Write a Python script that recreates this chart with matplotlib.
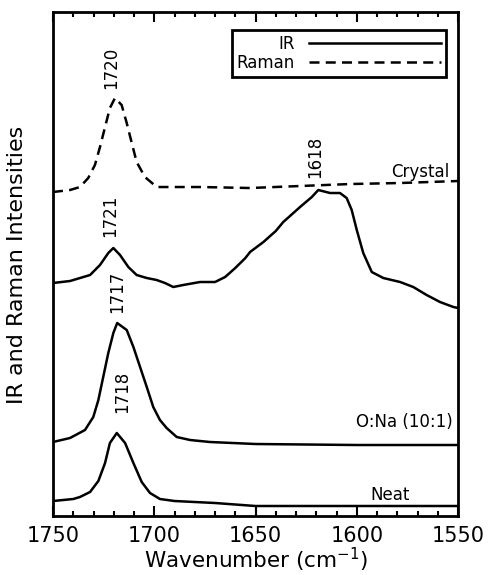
import matplotlib
matplotlib.use("Agg")
import matplotlib.pyplot as plt
from matplotlib.ticker import MultipleLocator

### DATA ### (intensities in arbitrary offset units)

neat_wn = [1750, 1740, 1736.7, 1731.7, 1727.6, 1724.3, 1721.9, 1718.5, 1714.4, 1710.3,
           1706.2, 1702.1, 1697.2, 1690, 1680, 1670, 1650, 1600, 1550]
neat_int = [15, 17, 19, 24, 35, 53, 73, 83, 73, 53,
            34, 23, 17, 15, 14, 13, 10, 10, 10]

ona_wn = [1750, 1741.6, 1734.2, 1730.1, 1727.6, 1725.2, 1722.7, 1720.2, 1718.3, 1713.6,
          1710.3, 1707.0, 1703.7, 1700.5, 1697.2, 1693.9, 1688.9, 1682.3, 1672.5, 1650,
          1600, 1550]
ona_int = [74, 78, 86, 99, 116, 139, 163, 183, 193, 186,
           169, 149, 129, 109, 96, 88, 79, 76, 74, 72,
           71, 71]

ir_wn = [1750, 1741.6, 1731.7, 1726.8, 1722.7, 1720.2, 1716.9, 1712.8, 1708.7, 1703.7,
         1698.8, 1694.7, 1690.6, 1685.7, 1677.4, 1670, 1665, 1660, 1655, 1652.7,
         1646.1, 1640, 1636.3, 1628.0, 1622.2, 1619.0, 1613.2, 1608.3, 1605.0, 1602.5,
         1600.0, 1596.8, 1592.6, 1586.9, 1578.6, 1572.1, 1565.5, 1558.9, 1552.3, 1550]
ir_int = [233, 235, 241, 251, 263, 268, 261, 249, 241, 238,
          236, 233, 229, 231, 234, 234, 239, 248, 258, 264,
          274, 285, 294, 309, 319, 326, 323, 323, 318, 306,
          286, 263, 244, 238, 234, 229, 221, 214, 209, 208]

raman_wn = [1750, 1741.6, 1736.7, 1732.6, 1729.3, 1726.8, 1724.3, 1721.9, 1719.4, 1716.1,
            1713.6, 1711.1, 1708.7, 1704.6, 1698.8, 1677.4, 1652.7, 1628, 1603, 1578.6,
            1550]
raman_int = [324, 326, 329, 338, 351, 369, 389, 408, 418, 411,
             393, 373, 354, 339, 329, 329, 328, 330, 332, 333,
             335]

peak_labels = ["1720", "1618", "1721", "1717", "1718"]
peak_wn = [1721.4, 1620.6, 1721.9, 1718.4, 1715.9]
peak_y = [448, 359, 300, 224, 124]

sample_names = ["Crystal", "O:Na (10:1)", "Neat"]
sample_wn = [1554.4, 1552.5, 1573.7]
sample_y = [344, 94, 21]

### PLOT ###

fig = plt.figure(figsize=(4.88, 5.75), dpi=100)
ax = fig.add_axes([0.1086, 0.1026, 0.83, 0.8765])

ax.plot(neat_wn, neat_int, color="black", lw=1.8, label="_nolegend_")
ax.plot(ona_wn, ona_int, color="black", lw=1.8, label="_nolegend_")
ax.plot(ir_wn, ir_int, color="black", lw=1.8, label="IR")
ax.plot(raman_wn, raman_int, color="black", lw=1.8, dashes=(4, 2.5), label="Raman")

for txt, xw, yy in zip(peak_labels, peak_wn, peak_y):
    ax.text(xw, yy, txt, rotation=90, ha="center", va="center", fontsize=12)

for txt, xw, yy in zip(sample_names, sample_wn, sample_y):
    ax.text(xw, yy, txt, ha="right", va="center", fontsize=12)

ax.set_xlim(1750, 1550)
ax.set_ylim(0, 504)

ax.xaxis.set_major_locator(MultipleLocator(50))
ax.xaxis.set_minor_locator(MultipleLocator(10))
ax.tick_params(axis="x", which="both", direction="in", top=True, bottom=True,
               width=1.5, labelsize=15, pad=7)
ax.tick_params(axis="x", which="major", length=7.5)
ax.tick_params(axis="x", which="minor", length=3.8)
ax.set_yticks([])

for s in ax.spines.values():
    s.set_linewidth(2)

ax.set_xlabel("Wavenumber (cm$^{-1}$)", fontsize=15.5, labelpad=0)
fig.text(0.035, 0.539, "IR and Raman Intensities", rotation=90,
         ha="center", va="center", fontsize=16)

leg = ax.legend(loc="upper right", bbox_to_anchor=(0.970, 0.964), borderaxespad=0,
                markerfirst=False, fancybox=False, fontsize=12, handlelength=7.9,
                labelspacing=0.05, borderpad=0.3, handletextpad=0.85)
leg.get_frame().set_edgecolor("black")
leg.get_frame().set_linewidth(2)
leg.get_frame().set_alpha(1)

fig.savefig("out.png", dpi=100)
